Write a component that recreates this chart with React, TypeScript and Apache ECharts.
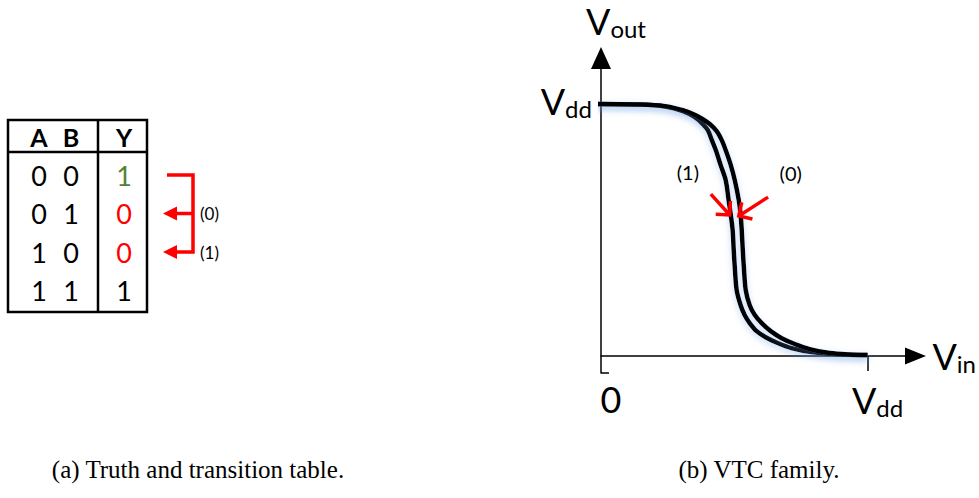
import React, { useEffect, useRef } from "react";
import * as echarts from "echarts";

// Supply voltage (normalised)
const VDD = 1;

// VTC for transition (1): input A switching, B held
const vin1 = [-0.019, 0.146, 0.24, 0.307, 0.352, 0.382, 0.401, 0.416, 0.431, 0.449, 0.468, 0.479, 0.487, 0.494, 0.498, 0.502, 0.509, 0.524, 0.539, 0.558, 0.584, 0.618, 0.663, 0.715, 0.79, 0.895, 1.0];
const vout1 = [1.0, 0.998, 0.99, 0.972, 0.948, 0.921, 0.897, 0.857, 0.817, 0.758, 0.698, 0.619, 0.56, 0.5, 0.421, 0.353, 0.262, 0.202, 0.163, 0.131, 0.099, 0.075, 0.052, 0.032, 0.016, 0.006, 0.004];

// VTC for transition (0): input B switching, A held
const vin0 = [-0.019, 0.146, 0.24, 0.307, 0.352, 0.382, 0.408, 0.434, 0.453, 0.468, 0.487, 0.502, 0.517, 0.524, 0.528, 0.532, 0.536, 0.543, 0.558, 0.577, 0.603, 0.637, 0.678, 0.727, 0.783, 0.858, 0.933, 1.0];
const vout0 = [1.0, 0.998, 0.992, 0.976, 0.958, 0.94, 0.921, 0.893, 0.857, 0.817, 0.758, 0.698, 0.619, 0.56, 0.5, 0.421, 0.353, 0.262, 0.202, 0.163, 0.131, 0.099, 0.071, 0.048, 0.028, 0.012, 0.006, 0.004];

// Truth table of the gate
const tableHeader = ["A", "B", "Y"];
const inputA = ["0", "0", "1", "1"];
const inputB = ["0", "1", "0", "1"];
const outputY = ["1", "0", "0", "1"];
const outputColors = ["#548235", "#ff0000", "#ff0000", "#000000"];

// Arrow annotations on the VTC (data coordinates: [from, to])
const arrowOne: [number, number][] = [[0.412, 0.643], [0.483, 0.56]];
const arrowZero: [number, number][] = [[0.627, 0.631], [0.517, 0.556]];
const labelOne: [number, number] = [0.326, 0.73];
const labelZero: [number, number] = [0.712, 0.726];

const captions = ["(a) Truth and transition table.", "(b) VTC family."];

const zip = (xs: number[], ys: number[]) => xs.map((x, i) => [x, ys[i]]);

const FONT = "Lato, 'Open Sans', sans-serif";
const SERIF = "'Liberation Serif', 'DejaVu Serif', serif";
const RED = "#ff0000";

const richV = {
  v: { fontFamily: FONT, fontSize: 36, color: "#000" },
  s: { fontFamily: FONT, fontSize: 24, color: "#000", padding: [14, 0, 0, 0] },
};

const curveLine = {
  color: "#000",
  width: 4.5,
  shadowColor: "rgba(110,160,225,0.4)",
  shadowBlur: 6,
  shadowOffsetY: 3,
};

export default function App() {
  const ref = useRef<HTMLDivElement>(null);

  useEffect(() => {
    document.body.style.margin = "0";
    const chart = echarts.init(ref.current!, null, { renderer: "svg" });

    chart.setOption({
      animation: false,
      backgroundColor: "#fff",
      grid: { left: 601, right: 63, top: 58, bottom: 125 },
      xAxis: {
        type: "value",
        min: 0,
        max: 1.18,
        splitLine: { show: false },
        axisLine: {
          onZero: true,
          symbol: ["none", "triangle"],
          symbolSize: [17, 21],
          lineStyle: { color: "#000", width: 1.5 },
        },
        axisTick: { show: true, customValues: [VDD], length: 15, lineStyle: { color: "#000", width: 1.5 } },
        axisLabel: {
          customValues: [0, VDD],
          formatter: (v: number) => (v === 0 ? "{v|0}" : "{v|V}{s|dd}"),
          margin: 8,
          padding: [0, 0, 0, 20],
          rich: richV,
        },
        name: "{v|V}{s|in}",
        nameLocation: "end",
        nameGap: 17,
        nameTextStyle: { rich: richV, align: "left", verticalAlign: "middle" },
      },
      yAxis: {
        type: "value",
        min: -0.067,
        max: 1.183,
        splitLine: { show: false },
        axisLine: {
          onZero: true,
          symbol: ["none", "triangle"],
          symbolSize: [20, 22],
          lineStyle: { color: "#000", width: 1.5 },
        },
        axisTick: { show: true, customValues: [-0.067], inside: true, length: 8, lineStyle: { color: "#000", width: 1.5 } },
        axisLabel: {
          customValues: [VDD],
          formatter: () => "{v|V}{s|dd}",
          margin: 9,
          padding: [0, 0, 6, 0],
          rich: richV,
        },
        name: "{v|V}{s|out}",
        nameLocation: "end",
        nameGap: 18,
        nameTextStyle: { rich: richV, padding: [0, 0, 0, 30] },
      },
      series: [
        {
          name: "(1)",
          type: "line",
          data: zip(vin1, vout1),
          smooth: 0.3,
          showSymbol: false,
          clip: false,
          lineStyle: curveLine,
          z: 3,
        },
        {
          name: "(0)",
          type: "line",
          data: zip(vin0, vout0),
          smooth: 0.3,
          showSymbol: false,
          clip: false,
          lineStyle: curveLine,
          z: 3,
        },
      ],
    });

    const toPx = (p: [number, number]) => chart.convertToPixel({ gridIndex: 0 }, p) as number[];

    // Open-headed red arrow in data space
    const arrow = (seg: [number, number][]) => {
      const a = toPx(seg[0]);
      const b = toPx(seg[1]);
      const dx = a[0] - b[0];
      const dy = a[1] - b[1];
      const len = Math.hypot(dx, dy);
      const nx = dx / len;
      const ny = dy / len;
      const arm = (ang: number) => [
        b[0] + 14 * (nx * Math.cos(ang) - ny * Math.sin(ang)),
        b[1] + 14 * (nx * Math.sin(ang) + ny * Math.cos(ang)),
      ];
      const st = { stroke: RED, lineWidth: 3.5, fill: null, lineJoin: "miter" };
      return [
        { type: "polyline", shape: { points: [a, b] }, style: st, z: 10 },
        { type: "polyline", shape: { points: [arm(Math.PI / 4), b, arm(-Math.PI / 4)] }, style: st, z: 10 },
      ];
    };

    const textEl = (x: number, y: number, text: string, extra: any = {}) => ({
      type: "text",
      x,
      y,
      z: 10,
      style: {
        text,
        fill: "#000",
        fontFamily: FONT,
        fontSize: 27,
        align: "center",
        verticalAlign: "middle",
        textAlign: "center",
        textVerticalAlign: "middle",
        ...extra,
      },
    });

    const l1 = toPx(labelOne);
    const l0 = toPx(labelZero);

    // Truth table geometry
    const colX = [39, 71, 124];
    const rowY = (i: number) => 175 + i * 38.5;
    const line = (x1: number, y1: number, x2: number, y2: number, w = 2.5, c = "#000") => ({
      type: "line",
      shape: { x1, y1, x2, y2 },
      style: { stroke: c, lineWidth: w },
      z: 10,
    });

    const tableEls: any[] = [
      {
        type: "rect",
        shape: { x: 8, y: 120, width: 139, height: 192 },
        style: { fill: "none", stroke: "#000", lineWidth: 2.5 },
        z: 10,
      },
      line(8, 152, 147, 152),
      line(98, 120, 98, 312),
      ...tableHeader.map((h, i) => textEl(colX[i], 137, h, { fontWeight: "bold", fontSize: 25 })),
      ...inputA.map((v, i) => textEl(colX[0], rowY(i), v)),
      ...inputB.map((v, i) => textEl(colX[1], rowY(i), v)),
      ...outputY.map((v, i) => textEl(colX[2], rowY(i), v, { fill: outputColors[i] })),
    ];

    // Transition bracket: row 1 feeds rows 2 (0) and 3 (1)
    const yTop = rowY(0);
    const y0 = rowY(1);
    const y1 = rowY(2);
    const head = (y: number) => ({
      type: "polygon",
      shape: { points: [[163, y], [177, y - 7], [177, y + 7]] },
      style: { fill: RED },
      z: 10,
    });
    const bracketEls: any[] = [
      {
        type: "polyline",
        shape: { points: [[167, yTop], [193, yTop], [193, y1], [176, y1]] },
        style: { stroke: RED, lineWidth: 3.5, fill: null },
        z: 10,
      },
      line(193, y0, 176, y0, 3.5, RED),
      head(y0),
      head(y1),
      textEl(200, y0, "(0)", { fontSize: 17, align: "left", textAlign: "left" }),
      textEl(200, y1, "(1)", { fontSize: 17, align: "left", textAlign: "left" }),
    ];

    const captionEls = [
      textEl(198, 469, captions[0], { fontFamily: SERIF, fontSize: 25 }),
      textEl(759, 469, captions[1], { fontFamily: SERIF, fontSize: 25 }),
    ];

    chart.setOption({
      graphic: [
        ...tableEls,
        ...bracketEls,
        ...arrow(arrowOne),
        ...arrow(arrowZero),
        textEl(l1[0], l1[1], "(1)", { fontSize: 20 }),
        textEl(l0[0], l0[1], "(0)", { fontSize: 20 }),
        ...captionEls,
      ],
    });

    return () => chart.dispose();
  }, []);

  return <div ref={ref} style={{ width: 979, height: 498 }} />;
}
